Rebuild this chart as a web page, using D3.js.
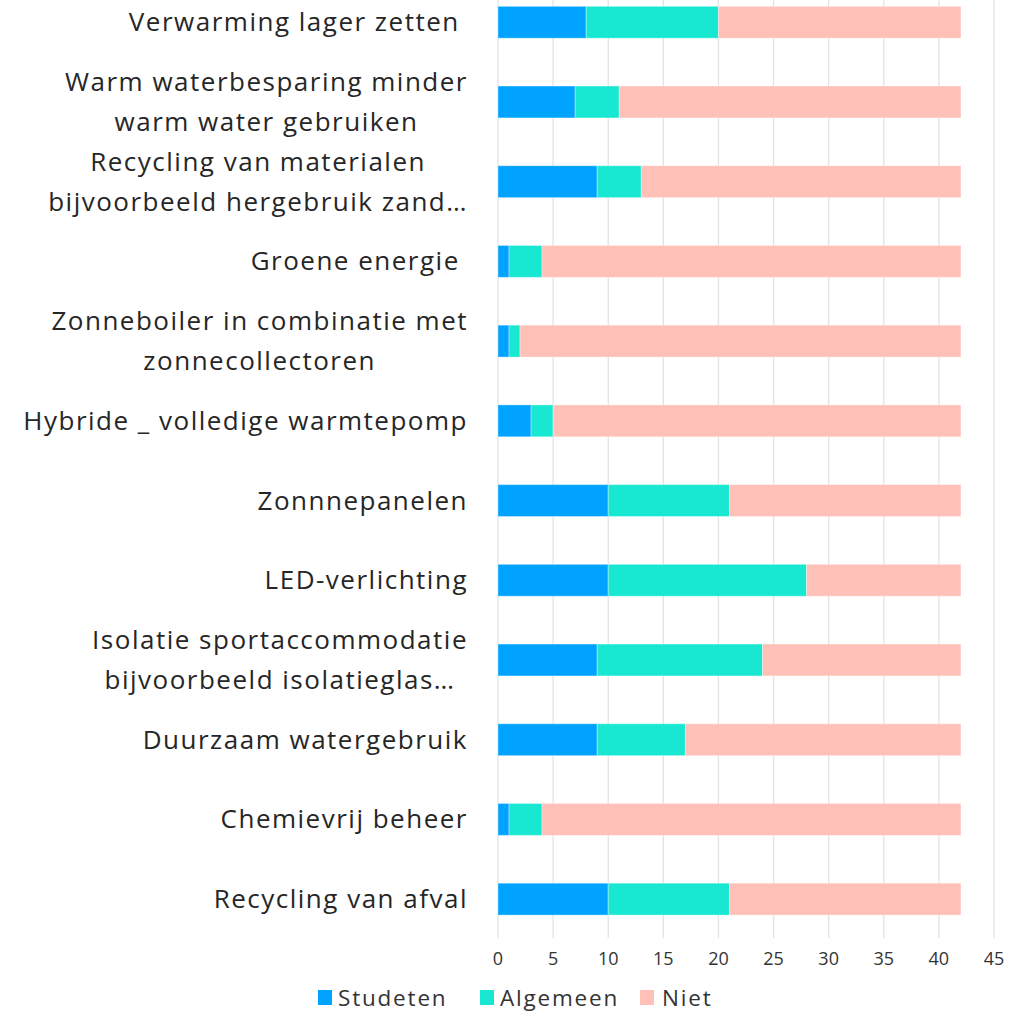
<!DOCTYPE html>
<html><head><meta charset="utf-8">
<script src="https://cdn.jsdelivr.net/npm/d3@7"></script>
<style>
html,body{margin:0;padding:0;background:#fff;}
svg{display:block;}
</style></head>
<body>
<svg id="chart" width="1034" height="1014"></svg>
<script>
const categories = [
  ["Verwarming lager zetten "],
  ["Warm waterbesparing minder", "warm water gebruiken"],
  ["Recycling van materialen", "bijvoorbeeld hergebruik zand…"],
  ["Groene energie "],
  ["Zonneboiler in combinatie met", "zonnecollectoren"],
  ["Hybride _ volledige warmtepomp"],
  ["Zonnnepanelen"],
  ["LED-verlichting"],
  ["Isolatie sportaccommodatie", "bijvoorbeeld isolatieglas…"],
  ["Duurzaam watergebruik"],
  ["Chemievrij beheer"],
  ["Recycling van afval"]
];
const seriesNames = ["Studeten", "Algemeen", "Niet"];
const studeten = [8, 7, 9, 1, 1, 3, 10, 10, 9, 9, 1, 10];
const algemeen = [12, 4, 4, 3, 1, 2, 11, 18, 15, 8, 3, 11];
const niet     = [22, 31, 29, 38, 40, 37, 21, 14, 18, 25, 38, 21];
const xTicks = [0, 5, 10, 15, 20, 25, 30, 35, 40, 45];
const colors = ["#00a3ff", "#18e8d2", "#ffc0b8"];

const svg = d3.select("#chart");
const font = "'Open Sans', 'Noto Sans', sans-serif";
const x = d3.scaleLinear().domain([0, 45]).range([498, 994]);
const idx = categories.map((d, i) => i);
const y = d3.scaleBand().domain(idx).range([-17.6, 939]).paddingInner(0.6).paddingOuter(0.3);

// gridlines
svg.append("g").selectAll("line").data(xTicks).join("line")
  .attr("x1", d => x(d)).attr("x2", d => x(d))
  .attr("y1", 0).attr("y2", 938)
  .attr("stroke", "#e3e3e3").attr("stroke-width", 1.3);

// stacked data
const rows = idx.map(i => ({i, Studeten: studeten[i], Algemeen: algemeen[i], Niet: niet[i]}));
const stack = d3.stack().keys(seriesNames)(rows);
svg.append("g").selectAll("g").data(stack).join("g")
  .attr("fill", (d, k) => colors[k])
  .selectAll("rect").data(d => d).join("rect")
  .attr("x", d => x(d[0]))
  .attr("width", d => x(d[1]) - x(d[0]))
  .attr("y", d => y(d.data.i))
  .attr("height", y.bandwidth())
  .attr("stroke", "rgba(255,255,255,0.35)").attr("stroke-width", 1);

// x tick labels
svg.append("g").selectAll("text").data(xTicks).join("text")
  .attr("x", d => x(d)).attr("y", 965)
  .attr("text-anchor", "middle")
  .attr("font-family", font).attr("font-size", 18).attr("fill", "#333")
  .text(d => d);

// category labels
const labelRight = 468;
const lg = svg.append("g");
categories.forEach((lines, i) => {
  const cy = y(i) + y.bandwidth() / 2;
  const g = lg.append("g");
  const texts = lines.map((t, j) => g.append("text")
    .attr("font-family", font).attr("font-size", 26).attr("fill", "#262626")
    .attr("letter-spacing", 1.5)
    .attr("xml:space", "preserve")
    .style("white-space", "pre")
    .attr("y", cy + (j - (lines.length - 1) / 2) * 40 + 9)
    .text(t));
  const widths = texts.map(t => t.node().getComputedTextLength());
  const maxW = d3.max(widths);
  const center = labelRight - maxW / 2;
  texts.forEach(t => t.attr("x", center).attr("text-anchor", "middle"));
});

// legend
const legendItems = [
  {name: "Studeten", sx: 318, tx: 338},
  {name: "Algemeen", sx: 480, tx: 500},
  {name: "Niet", sx: 640, tx: 662}
];
const leg = svg.append("g");
legendItems.forEach((d, k) => {
  leg.append("rect").attr("x", d.sx).attr("y", 990).attr("width", 14).attr("height", 15).attr("fill", colors[k]);
  leg.append("text").attr("x", d.tx).attr("y", 1006)
    .attr("font-family", font).attr("font-size", 22.5).attr("fill", "#333")
    .attr("letter-spacing", 1.8)
    .text(d.name);
});
</script>
</body></html>
